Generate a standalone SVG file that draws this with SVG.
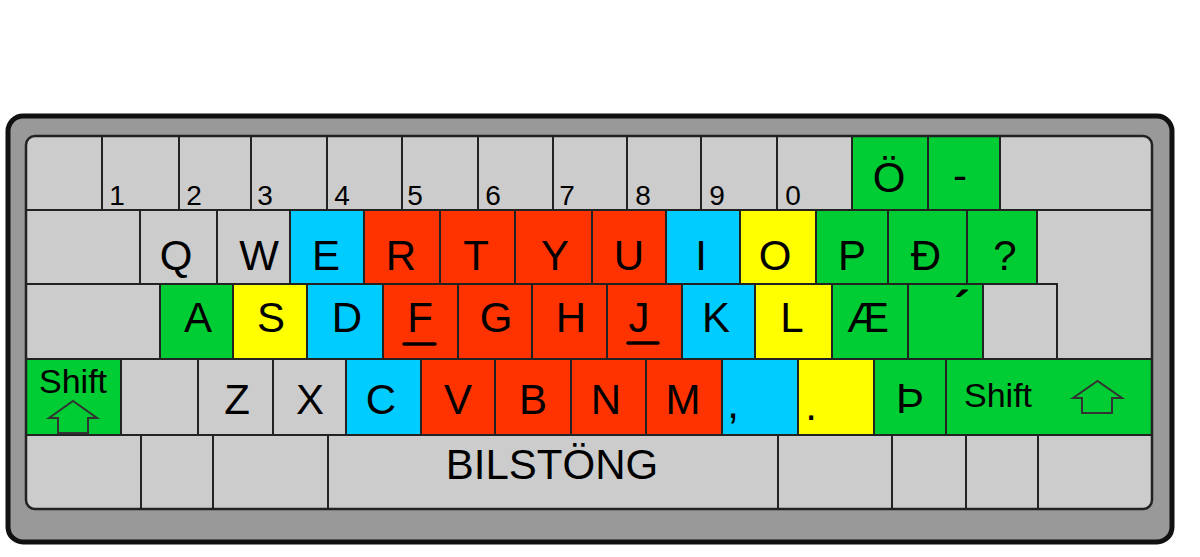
<svg xmlns="http://www.w3.org/2000/svg" width="1200" height="557" viewBox="0 0 1200 557">
<style>
.k{stroke:#222;stroke-width:2;stroke-linejoin:round}
.g{fill:#cccccc}.gr{fill:#00cc33}.r{fill:#ff3300}.b{fill:#00ccff}.y{fill:#ffff00}
text{font-family:"Liberation Sans",Arial,Helvetica,sans-serif;fill:#000}
.t{font-size:42px;text-anchor:middle}
.d{font-size:28px;text-anchor:middle}
.s{font-size:34px}
.ar{fill:none;stroke:#333;stroke-width:2;stroke-linejoin:miter}
.ul{stroke:#000;stroke-width:3.5;stroke-linecap:round}
</style>
<defs>
<clipPath id="inner"><rect x="26" y="136" width="1126" height="373" rx="9"/></clipPath>
</defs>
<g id="frame">
<rect x="8" y="116" width="1164" height="426" rx="15" fill="#999999" stroke="#111" stroke-width="5"/>
<rect x="26" y="136" width="1126" height="373" rx="9" fill="#cccccc"/>
</g>
<g id="keys" clip-path="url(#inner)">
<g id="row1">
<g id="key-r1-0"><rect class="k g" x="26" y="136" width="76" height="74"/></g>
<g id="key-1"><rect class="k g" x="102" y="136" width="77" height="74"/><text class="d" x="117" y="205">1</text></g>
<g id="key-2"><rect class="k g" x="179" y="136" width="72" height="74"/><text class="d" x="194" y="205">2</text></g>
<g id="key-3"><rect class="k g" x="251" y="136" width="76" height="74"/><text class="d" x="265" y="205">3</text></g>
<g id="key-4"><rect class="k g" x="327" y="136" width="75" height="74"/><text class="d" x="342" y="205">4</text></g>
<g id="key-5"><rect class="k g" x="402" y="136" width="76" height="74"/><text class="d" x="415" y="205">5</text></g>
<g id="key-6"><rect class="k g" x="478" y="136" width="75" height="74"/><text class="d" x="493" y="205">6</text></g>
<g id="key-7"><rect class="k g" x="553" y="136" width="74" height="74"/><text class="d" x="567" y="205">7</text></g>
<g id="key-8"><rect class="k g" x="627" y="136" width="74" height="74"/><text class="d" x="643" y="205">8</text></g>
<g id="key-9"><rect class="k g" x="701" y="136" width="76" height="74"/><text class="d" x="717" y="205">9</text></g>
<g id="key-0"><rect class="k g" x="777" y="136" width="75" height="74"/><text class="d" x="793" y="205">0</text></g>
<g id="key-oe"><rect class="k gr" x="852" y="136" width="76" height="74"/><text class="t" x="889" y="192">Ö</text></g>
<g id="key-minus"><rect class="k gr" x="928" y="136" width="72" height="74"/><text class="t" x="960" y="190">-</text></g>
<g id="key-back"><rect class="k g" x="1000" y="136" width="152" height="74"/></g>
</g>
<g id="row2">
<g id="key-tab"><rect class="k g" x="26" y="210" width="114" height="74"/></g>
<g id="key-q"><rect class="k g" x="140" y="210" width="77" height="74"/><text class="t" x="176" y="270">Q</text></g>
<g id="key-w"><rect class="k g" x="217" y="210" width="73" height="74"/><text class="t" x="259" y="270">W</text></g>
<g id="key-e"><rect class="k b" x="290" y="210" width="74" height="74"/><text class="t" x="326" y="270">E</text></g>
<g id="key-r"><rect class="k r" x="364" y="210" width="76" height="74"/><text class="t" x="401" y="270">R</text></g>
<g id="key-t"><rect class="k r" x="440" y="210" width="75" height="74"/><text class="t" x="476" y="270">T</text></g>
<g id="key-y"><rect class="k r" x="515" y="210" width="77" height="74"/><text class="t" x="555" y="270">Y</text></g>
<g id="key-u"><rect class="k r" x="592" y="210" width="74" height="74"/><text class="t" x="629" y="270">U</text></g>
<g id="key-i"><rect class="k b" x="666" y="210" width="74" height="74"/><text class="t" x="701" y="270">I</text></g>
<g id="key-o"><rect class="k y" x="740" y="210" width="76" height="74"/><text class="t" x="775" y="270">O</text></g>
<g id="key-p"><rect class="k gr" x="816" y="210" width="72" height="74"/><text class="t" x="852" y="270">P</text></g>
<g id="key-eth"><rect class="k gr" x="888" y="210" width="79" height="74"/><text class="t" x="926" y="270">Ð</text></g>
<g id="key-q-mark"><rect class="k gr" x="967" y="210" width="70" height="74"/><text class="t" x="1005" y="270">?</text></g>
<g id="key-enter"><path class="k g" d="M1037,210 H1152 V359 H1057 V284 H1037 Z"/></g>
</g>
<g id="row3">
<g id="key-caps"><rect class="k g" x="26" y="284" width="134" height="75"/></g>
<g id="key-a"><rect class="k gr" x="160" y="284" width="73" height="75"/><text class="t" x="198" y="332">A</text></g>
<g id="key-s"><rect class="k y" x="233" y="284" width="74" height="75"/><text class="t" x="271" y="332">S</text></g>
<g id="key-d"><rect class="k b" x="307" y="284" width="76" height="75"/><text class="t" x="347" y="332">D</text></g>
<g id="key-f"><rect class="k r" x="383" y="284" width="75" height="75"/><text class="t" x="420" y="332">F</text><line class="ul" x1="404" y1="344" x2="435" y2="344"/></g>
<g id="key-g"><rect class="k r" x="458" y="284" width="74" height="75"/><text class="t" x="496" y="332">G</text></g>
<g id="key-h"><rect class="k r" x="532" y="284" width="75" height="75"/><text class="t" x="571" y="332">H</text></g>
<g id="key-j"><rect class="k r" x="607" y="284" width="75" height="75"/><text class="t" x="639" y="332">J</text><line class="ul" x1="628" y1="343" x2="658" y2="343"/></g>
<g id="key-k"><rect class="k b" x="682" y="284" width="73" height="75"/><text class="t" x="716" y="332">K</text></g>
<g id="key-l"><rect class="k y" x="755" y="284" width="77" height="75"/><text class="t" x="792" y="332">L</text></g>
<g id="key-ae"><rect class="k gr" x="832" y="284" width="76" height="75"/><text class="t" x="868" y="332">Æ</text></g>
<g id="key-acute"><rect class="k gr" x="908" y="284" width="75" height="75"/><text class="t" x="962" y="325" style="font-size:48px;font-weight:bold">´</text></g>
<g id="key-r3-end"><rect class="k g" x="983" y="284" width="74" height="75"/></g>
</g>
<g id="row4">
<g id="key-lshift"><rect class="k gr" x="26" y="359" width="95" height="76"/><text class="s" x="39" y="393">Shift</text><path class="ar" d="M49,418 L73,401 L97,418 L88,418 L88,433 L58,433 L58,418 Z"/></g>
<g id="key-r4-1"><rect class="k g" x="121" y="359" width="77" height="76"/></g>
<g id="key-z"><rect class="k g" x="198" y="359" width="75" height="76"/><text class="t" x="237" y="414">Z</text></g>
<g id="key-x"><rect class="k g" x="273" y="359" width="73" height="76"/><text class="t" x="310" y="414">X</text></g>
<g id="key-c"><rect class="k b" x="346" y="359" width="75" height="76"/><text class="t" x="381" y="414">C</text></g>
<g id="key-v"><rect class="k r" x="421" y="359" width="74" height="76"/><text class="t" x="458" y="414">V</text></g>
<g id="key-b"><rect class="k r" x="495" y="359" width="76" height="76"/><text class="t" x="533" y="414">B</text></g>
<g id="key-n"><rect class="k r" x="571" y="359" width="75" height="76"/><text class="t" x="606" y="414">N</text></g>
<g id="key-m"><rect class="k r" x="646" y="359" width="76" height="76"/><text class="t" x="683" y="414">M</text></g>
<g id="key-comma"><rect class="k b" x="722" y="359" width="76" height="76"/><text class="t" x="733" y="418">,</text></g>
<g id="key-period"><rect class="k y" x="798" y="359" width="76" height="76"/><text class="t" x="811" y="420">.</text></g>
<g id="key-thorn"><rect class="k gr" x="874" y="359" width="72" height="76"/><text class="t" x="910" y="413">Þ</text></g>
<g id="key-rshift"><rect class="k gr" x="946" y="359" width="206" height="76"/><text class="s" x="964" y="407">Shift</text><path class="ar" d="M1073,398 L1097.5,381 L1122,398 L1112,398 L1112,413 L1082,413 L1082,398 Z"/></g>
</g>
<g id="row5">
<g id="key-r5-1"><rect class="k g" x="26" y="435" width="115" height="74"/></g>
<g id="key-r5-2"><rect class="k g" x="141" y="435" width="72" height="74"/></g>
<g id="key-r5-3"><rect class="k g" x="213" y="435" width="115" height="74"/></g>
<g id="key-space"><rect class="k g" x="328" y="435" width="450" height="74"/><text class="t" x="552" y="479">BILSTÖNG</text></g>
<g id="key-r5-5"><rect class="k g" x="778" y="435" width="114" height="74"/></g>
<g id="key-r5-6"><rect class="k g" x="892" y="435" width="74" height="74"/></g>
<g id="key-r5-7"><rect class="k g" x="966" y="435" width="72" height="74"/></g>
<g id="key-r5-8"><rect class="k g" x="1038" y="435" width="114" height="74"/></g>
</g>
</g>
<g id="inner-outline">
<rect x="26" y="136" width="1126" height="373" rx="9" fill="none" stroke="#222" stroke-width="2.5"/>
</g>
</svg>
